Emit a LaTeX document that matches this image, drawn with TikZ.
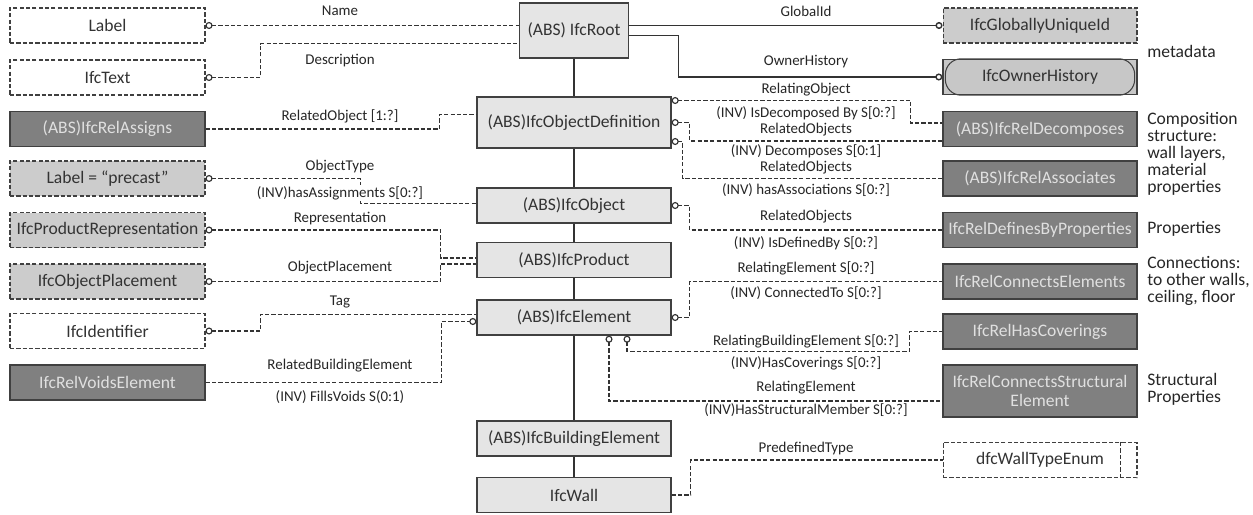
\documentclass[tikz,border=0pt]{standalone}
\usepackage{fontspec}
\setmainfont{Carlito}
\usetikzlibrary{arrows.meta,calc}

\tikzset{
  ring/.tip={Circle[open,length=4pt,width=4pt]},
  box/.style={draw=black!75,line width=0.8pt,inner sep=0pt,minimum width=3.88cm,minimum height=0.7cm,
    font=\fontsize{10}{11}\selectfont,text=black!80,align=center},
  core/.style={box,fill=black!10},
  rel/.style={box,fill=black!50,text=white!88!black},
  attr/.style={box,line width=0.6pt,dash pattern=on 2.4pt off 1.2pt,fill=white},
  sel/.style={attr,fill=black!20},
  conn/.style={draw=black!80,line width=0.65pt,dash pattern=on 2.4pt off 1.2pt},
  link/.style={draw=black!80,line width=0.8pt},
  lab/.style={font=\fontsize{8.5}{9}\selectfont,text=black!85,fill=white,inner sep=0.6pt},
  note/.style={font=\fontsize{10}{9.7}\selectfont,text=black!85,align=left,anchor=north west,inner sep=0pt},
}

\begin{document}
\begin{tikzpicture}[x=0.02cm,y=-0.02cm]

\useasboundingbox (0,0) rectangle (1253,514);

%% left column
\node[attr,minimum width=3.9cm] (lbl)     at (107.5,25.5)  {Label};
\node[attr,minimum width=3.9cm] (txt)     at (107.5,77.5)  {IfcText};
\node[rel,minimum width=3.9cm]  (rassign) at (107.5,129)   {(ABS)IfcRelAssigns};
\node[sel,minimum width=3.9cm]  (prec)    at (107.5,178.5) {Label = “precast”};
\node[sel,minimum width=3.9cm]  (prep)    at (107.5,230)   {IfcProductRepresentation};
\node[sel,minimum width=3.9cm]  (oplac)   at (107.5,281.5) {IfcObjectPlacement};
\node[attr,minimum width=3.9cm] (ident)   at (107.5,331)   {IfcIdentifier};
\node[rel,minimum width=3.9cm]  (rvoids)  at (107.5,382.5) {IfcRelVoidsElement};

%% middle column
\node[core,minimum width=2.18cm,minimum height=1.1cm] (root) at (574,30.5) {(ABS) IfcRoot};
\node[core,minimum height=1.02cm] (objdef) at (574,122.5) {(ABS)IfcObjectDefinition};
\node[core] (obj)  at (574,205.5) {(ABS)IfcObject};
\node[core] (prod) at (574,260)   {(ABS)IfcProduct};
\node[core] (elem) at (574,317.5) {(ABS)IfcElement};
\node[core] (bldg) at (574,438.5) {(ABS)IfcBuildingElement};
\node[core] (wall) at (574,495)   {IfcWall};

%% right column
\node[sel] (guid) at (1040,25.5) {IfcGloballyUniqueId};
\node[box,fill=black!22] (own) at (1040,77) {IfcOwnerHistory};
\draw[black!75,line width=0.6pt,rounded corners=9pt] ($(own.north west)+(3,0)$) rectangle ($(own.south east)+(-3,0)$);
\node[rel] (rdecomp)  at (1040,129)   {(ABS)IfcRelDecomposes};
\node[rel] (rassoc)   at (1040,178.5) {(ABS)IfcRelAssociates};
\node[rel] (rdefprop) at (1040,230)   {IfcRelDefinesByProperties};
\node[rel] (rconn)    at (1040,281.5) {IfcRelConnectsElements};
\node[rel] (rcov)     at (1040,331.5) {IfcRelHasCoverings};
\node[rel,minimum height=1.04cm] (rstruct) at (1040,391) {IfcRelConnectsStructural\\Element};
\node[attr] (wenum) at (1040,460) {dfcWallTypeEnum};
\draw[conn] ($(wenum.north east)+(-17,0)$) -- ($(wenum.south east)+(-17,0)$);

%% side notes
\node[note] (nmeta)   at (1147,45)  {metadata};
\node[note] (ncomp)   at (1147,112) {Composition\\structure:\\wall layers,\\material\\properties};
\node[note] (nprop)   at (1147,221) {Properties};
\node[note] (nconn)   at (1147,256) {Connections:\\to other walls,\\ceiling, floor};
\node[note] (nstruct) at (1147,373) {Structural\\Properties};

%% inheritance spine
\foreach \a/\b in {root/objdef,objdef/obj,obj/prod,prod/elem,elem/bldg,bldg/wall}
  \draw[link] (\a.south) -- (\b.north);

%% attributes of IfcRoot
\draw[conn,ring-] (lbl.east) -- (lbl.east -| root.west);
\draw[conn,ring-] (txt.east) -- ++(55,0) |- ($(root.west)+(0,13)$);
\draw[link,-ring] (root.east |- guid.west) -- (guid.west);
\draw[link,-ring] ($(root.east)+(0,5)$) -- ++(49,0) |- (own.west);

%% left relations
\draw[conn] (rassign.east) -- ++(234,0) |- ($(objdef.west)+(0,-8)$);
\draw[conn,ring-] (prec.east) -- ++(155,0) |- ($(obj.west)+(0,-2)$);
\draw[conn,ring-] (prep.east) -- ++(235,0) |- ($(prod.west)+(0,-2)$);
\draw[conn,ring-] (oplac.east) -- ++(235,0) |- ($(prod.west)+(0,4)$);
\draw[conn,ring-] (ident.east) -- ++(55,0) |- ($(elem.west)+(0,-3)$);
\draw[conn,-ring] (rvoids.east) -- ++(236,0) |- ($(elem.west)+(0,4)$);

%% right relations
\draw[conn,ring-] ($(objdef.east)+(0,-22)$) -- ++(239,0) |- ($(rdecomp.west)+(0,-6)$);
\draw[conn,ring-] (objdef.east) -- ++(18,0) |- ($(rdecomp.west)+(0,12)$);
\draw[conn,ring-] ($(objdef.east)+(0,19)$) -- ++(11,0) |- (rassoc.west);
\draw[conn,ring-] (obj.east) -- ++(18,0) |- (rdefprop.west);
\draw[conn,ring-] (elem.east) -- ++(18,0) |- (rconn.west);
\draw[conn,ring-] ($(elem.south)+(53,0)$) |- ($(rcov.west)+(-33,20)$) |- (rcov.west);
\draw[conn,ring-] ($(elem.south)+(35,0)$) |- ($(rstruct.west)+(0,10)$);
\draw[conn] (wall.east) -- ++(19,0) |- (wenum.west);

%% relation labels, left
\node[lab] (lName)   at (340,11)  {Name};
\node[lab] (lDesc)   at (340,61)  {Description};
\node[lab] (lRelObj) at (340,116) {RelatedObject [1:?]};
\node[lab] (lObjTyp) at (340,167) {ObjectType};
\node[lab] (lHasAss) at (340,193) {(INV)hasAssignments S[0:?]};
\node[lab] (lRepr)   at (340,219) {Representation};
\node[lab] (lObjPl)  at (340,268) {ObjectPlacement};
\node[lab] (lTag)    at (340,302) {Tag};
\node[lab] (lRelBE)  at (340,366) {RelatedBuildingElement};
\node[lab] (lFills)  at (340,397) {(INV) FillsVoids S(0:1)};

%% relation labels, right
\node[lab] (lGuid)   at (806,11)  {GlobalId};
\node[lab] (lOwn)    at (806,62)  {OwnerHistory};
\node[lab] (lRelng)  at (806,90)  {RelatingObject};
\node[lab] (lIsDec)  at (806,113) {(INV) IsDecomposed By S[0:?]};
\node[lab] (lRelA)   at (806,130) {RelatedObjects};
\node[lab] (lDecomp) at (806,151) {(INV) Decomposes S[0:1]};
\node[lab] (lRelB)   at (806,168) {RelatedObjects};
\node[lab] (lHasAsc) at (806,190) {(INV) hasAssociations S[0:?]};
\node[lab] (lRelC)   at (806,217) {RelatedObjects};
\node[lab] (lIsDef)  at (806,243) {(INV) IsDefinedBy S[0:?]};
\node[lab] (lRelEl)  at (806,268) {RelatingElement S[0:?]};
\node[lab] (lConTo)  at (806,293) {(INV) ConnectedTo S[0:?]};
\node[lab] (lRelBld) at (806,341) {RelatingBuildingElement S[0:?]};
\node[lab] (lHasCov) at (806,363) {(INV)HasCoverings S[0:?]};
\node[lab] (lRelE2)  at (806,388) {RelatingElement};
\node[lab] (lHasStr) at (806,410) {(INV)HasStructuralMember S[0:?]};
\node[lab] (lPreTyp) at (806,449) {PredefinedType};

\end{tikzpicture}
\end{document}
